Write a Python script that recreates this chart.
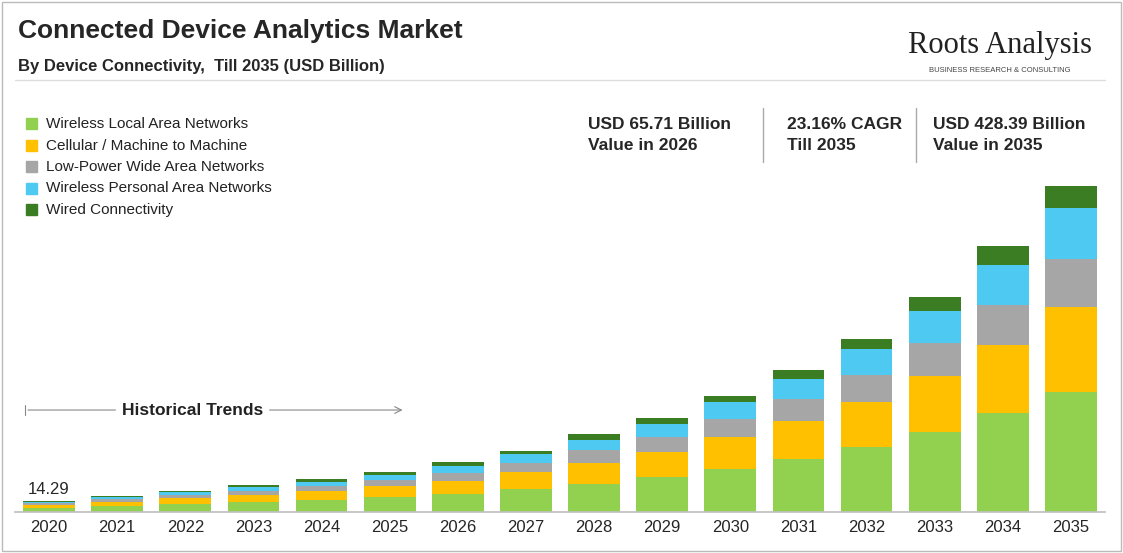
import numpy as np, pandas as pd, matplotlib
matplotlib.use("Agg")
import matplotlib.pyplot as plt, seaborn as sns
from matplotlib.patches import Rectangle

years = [str(y) for y in range(2020, 2036)]
wlan = [5.4, 8, 10.5, 13, 16, 20, 24, 30, 37, 46, 57, 70, 85, 105, 130, 158]
cell = [3.8, 5.5, 7.5, 9, 11, 14, 17, 22, 28, 33, 41, 49, 60, 74, 89, 112]
lpwan = [2.3, 3.5, 4.5, 5.5, 7, 8, 10, 13, 17, 20, 24, 30, 35, 43, 53, 63]
wpan = [2.0, 3, 4, 5, 6, 7, 9, 11, 13, 17, 22, 26, 34, 42, 53, 66]
wired = [0.79, 1, 1.5, 2.5, 3, 4, 5.71, 4, 7, 8, 9, 12, 13, 18, 24, 29.39]
names = ["Wireless Local Area Networks", "Cellular / Machine to Machine",
         "Low-Power Wide Area Networks", "Wireless Personal Area Networks", "Wired Connectivity"]
colors = ["#92D050", "#FFC000", "#A6A6A6", "#4DC9F2", "#3B7D23"]

sns.set_theme(style="white")
plt.rcParams['font.family'] = ['Liberation Sans', 'DejaVu Sans']
fig = plt.figure(figsize=(11.23, 5.53), dpi=100)
ax = fig.add_axes([15/1123, 1-512/553, 1090/1123, 340/553])
series = [wlan, cell, lpwan, wpan, wired]
cum = np.cumsum(np.array(series), axis=0)
for i in range(4, -1, -1):
    df = pd.DataFrame({"year": years, "v": cum[i]})
    sns.barplot(data=df, x="year", y="v", color=colors[i], width=0.76, ax=ax,
                saturation=1, edgecolor="none")
ax.set_ylim(0, 340 * 428.39 / 326)
ax.set_xlim(-0.5, 15.5)
ax.set_xlabel(""); ax.set_ylabel("")
ax.set_yticks([])
ax.tick_params(axis='x', length=0, labelsize=12, pad=6)
for s in ["top", "right", "left"]:
    ax.spines[s].set_visible(False)
ax.spines["bottom"].set_color("#BFBFBF")
ax.text(0, cum[4][0] + 6, "14.29", ha="center", va="bottom", fontsize=12)
ay = 134
ax.annotate("", xy=(5.23, ay), xytext=(-0.35, ay),
            arrowprops=dict(arrowstyle="->", color="#888888", lw=0.8))
ax.plot([-0.35, -0.35], [ay - 6, ay + 6], color="#888888", lw=0.8)
ax.text(2.1, ay, "Historical Trends", ha="center", va="center", fontsize=12.5,
        fontweight="bold", backgroundcolor="white", color="#222222")

fig.patches.append(Rectangle((2/1123, 2/553), 1119/1123, 549/553, transform=fig.transFigure,
                             fill=False, edgecolor="#BBBBBB", lw=1))
fig.text(18/1123, 1-31/553, "Connected Device Analytics Market", fontsize=19, fontweight="bold", va="center")
fig.text(18/1123, 1-66/553, "By Device Connectivity,  Till 2035 (USD Billion)", fontsize=12, fontweight="bold", va="center")
fig.text(1000/1123, 1-46/553, "Roots Analysis", fontsize=22, family="Liberation Serif", ha="center", va="center", color="#222222")
fig.text(1000/1123, 1-70/553, "BUSINESS RESEARCH & CONSULTING", fontsize=5.5, ha="center", va="center", color="#444444")
fig.lines.append(plt.Line2D([15/1123, 1105/1123], [1-80/553]*2, transform=fig.transFigure, color="#DDDDDD", lw=1))

for i, n in enumerate(names):
    y = 1 - (124 + i * 21.5) / 553
    fig.patches.append(Rectangle((26/1123, y - 5/553), 11/1123, 11/553, transform=fig.transFigure,
                                 color=colors[i]))
    fig.text(46/1123, y, n, fontsize=11, va="center", color="#222222")

for x, t in [(588, "USD 65.71 Billion\nValue in 2026"), (787, "23.16% CAGR\nTill 2035"),
             (933, "USD 428.39 Billion\nValue in 2035")]:
    fig.text(x/1123, 1-135/553, t, fontsize=12.5, fontweight="bold", va="center", linespacing=1.5)
for x in [763, 916]:
    fig.lines.append(plt.Line2D([x/1123]*2, [1-108/553, 1-162/553], transform=fig.transFigure, color="#AAAAAA", lw=1))
fig.savefig("out.png", dpi=100)
